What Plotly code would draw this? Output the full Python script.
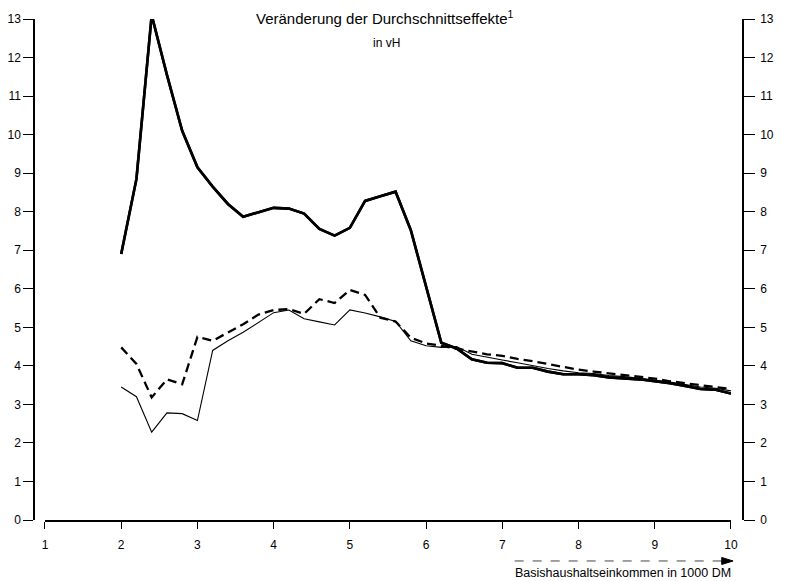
import plotly.graph_objects as go

# income (1000 DM)
einkommen = [2.0, 2.2, 2.4, 2.6, 2.8, 3.0, 3.2, 3.4, 3.6, 3.8,
             4.0, 4.2, 4.4, 4.6, 4.8, 5.0, 5.2, 5.4, 5.6, 5.8,
             6.0, 6.2, 6.4, 6.6, 6.8, 7.0, 7.2, 7.4, 7.6, 7.8,
             8.0, 8.2, 8.4, 8.6, 8.8, 9.0, 9.2, 9.4, 9.6, 9.8, 10.0]

# thick solid line
effekt_dick = [6.9, 8.85, 13.1, 11.55, 10.1, 9.15, 8.65, 8.2, 7.87, 7.98,
               8.1, 8.08, 7.95, 7.55, 7.38, 7.58, 8.28, 8.4, 8.52, 7.52,
               6.05, 4.6, 4.45, 4.17, 4.08, 4.07, 3.95, 3.95, 3.85, 3.78,
               3.78, 3.76, 3.7, 3.68, 3.65, 3.6, 3.55, 3.48, 3.4, 3.38, 3.28]

# thin solid line
effekt_duenn = [3.45, 3.2, 2.28, 2.78, 2.76, 2.58, 4.4, 4.65, 4.87, 5.13,
                5.38, 5.45, 5.22, 5.14, 5.06, 5.45, 5.37, 5.27, 5.15, 4.65,
                4.52, 4.48, 4.5, 4.3, 4.22, 4.15, 4.08, 4.0, 3.93, 3.87,
                3.82, 3.8, 3.75, 3.72, 3.68, 3.63, 3.58, 3.52, 3.45, 3.42, 3.35]

# dashed line
effekt_gestr = [4.48, 4.05, 3.18, 3.65, 3.52, 4.75, 4.65, 4.87, 5.08, 5.33,
                5.45, 5.47, 5.35, 5.73, 5.63, 5.97, 5.84, 5.25, 5.15, 4.73,
                4.58, 4.52, 4.45, 4.38, 4.3, 4.26, 4.18, 4.12, 4.04, 3.97,
                3.9, 3.85, 3.8, 3.76, 3.72, 3.67, 3.6, 3.55, 3.5, 3.46, 3.4]

x_ticks = [1, 2, 3, 4, 5, 6, 7, 8, 9, 10]
y_ticks = list(range(0, 14))

FONT = "Liberation Sans"

fig = go.Figure()
fig.add_trace(go.Scatter(x=einkommen, y=effekt_duenn, mode="lines",
                         line=dict(color="black", width=1.1)))
fig.add_trace(go.Scatter(x=einkommen, y=effekt_gestr, mode="lines",
                         line=dict(color="black", width=2.3, dash="9px,5px")))
fig.add_trace(go.Scatter(x=einkommen, y=effekt_dick, mode="lines",
                         line=dict(color="black", width=2.6)))
# same curve on the right axis so it gets drawn (hidden under the thick line)
fig.add_trace(go.Scatter(x=einkommen, y=effekt_dick, yaxis="y2", mode="lines",
                         line=dict(color="black", width=2.6)))

ax_common = dict(showgrid=False, zeroline=False, showline=True,
                 linecolor="black", linewidth=1.5, ticks="outside",
                 tickcolor="black", tickwidth=1, automargin=False,
                 tickfont=dict(size=12, color="black", family=FONT))

# page body has an 8px margin, so the margins are shifted by 8px
fig.update_layout(
    width=790, height=581,
    margin=dict(l=26, r=55, t=11, b=69),
    paper_bgcolor="white", plot_bgcolor="white",
    showlegend=False,
    font=dict(family=FONT, color="black"),
    xaxis=dict(range=[1, 10], domain=[0.0155, 0.983], tickvals=x_ticks,
               ticklen=7, ticklabelstandoff=6, **ax_common),
    yaxis=dict(range=[0, 13], tickvals=y_ticks, anchor="free", position=0,
               ticklen=10, **ax_common),
    yaxis2=dict(range=[0, 13], tickvals=y_ticks, anchor="free", position=1,
                overlaying="y", side="right", ticklen=11, ticklabelstandoff=3,
                **ax_common),
)

fig.add_annotation(x=0.495, y=1.002, xref="paper", yref="paper",
                   xanchor="center", yanchor="middle",
                   text="Veränderung der Durchschnittseffekte<sup>1</sup>",
                   showarrow=False, font=dict(size=15))
fig.add_annotation(x=0.497, y=0.952, xref="paper", yref="paper",
                   xanchor="center", yanchor="middle",
                   text="in vH", showarrow=False, font=dict(size=12))

# dashed arrow under the x axis
arrow_y = -0.0818
fig.add_shape(type="line", xref="paper", yref="paper",
              x0=0.678, x1=0.972, y0=arrow_y, y1=arrow_y,
              line=dict(color="#444", width=1, dash="dash"))
fig.add_shape(type="path", xref="paper", yref="paper",
              path=f"M 0.970,{arrow_y + 0.007} L 0.986,{arrow_y} L 0.970,{arrow_y - 0.007} Z",
              fillcolor="black", line=dict(color="black", width=1))
fig.add_annotation(x=0.676, y=-0.106, xref="paper", yref="paper",
                   xanchor="left", yanchor="middle",
                   text="Basishaushaltseinkommen in 1000 DM",
                   showarrow=False, font=dict(size=12.5))

fig.write_html("out.html")
